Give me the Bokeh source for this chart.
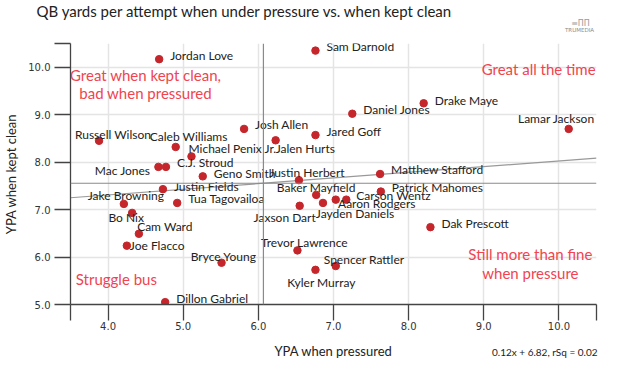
import numpy as np
from bokeh.plotting import figure
from bokeh.models import ColumnDataSource, Label, FixedTicker, Span
from bokeh.core.properties import value
from bokeh.embed import file_html
from bokeh.resources import INLINE

# ---- data ----
players = ["Jordan Love", "Sam Darnold", "Drake Maye", "Daniel Jones", "Lamar Jackson",
           "Jared Goff", "Josh Allen", "Jalen Hurts", "Russell Wilson", "Caleb Williams",
           "Michael Penix Jr.", "Mac Jones", "C.J. Stroud", "Geno Smith", "Justin Herbert",
           "Justin Fields", "Jake Browning", "Tua Tagovailoa", "Bo Nix", "Cam Ward",
           "Joe Flacco", "Bryce Young", "Dillon Gabriel", "Baker Mayfield", "Jaxson Dart",
           "Jayden Daniels", "Aaron Rodgers", "Carson Wentz", "Patrick Mahomes",
           "Matthew Stafford", "Dak Prescott", "Trevor Lawrence", "Spencer Rattler",
           "Kyler Murray"]
ypa_pressured = [4.68, 6.76, 8.20, 7.25, 10.13,
                 6.76, 5.81, 6.23, 3.88, 4.90,
                 5.11, 4.67, 4.77, 5.26, 6.54,
                 4.73, 4.21, 4.92, 4.32, 4.41,
                 4.25, 5.51, 4.76, 6.77, 6.55,
                 6.86, 7.03, 7.17, 7.63,
                 7.62, 8.29, 6.52, 7.03,
                 6.76]
ypa_clean = [10.17, 10.35, 9.24, 9.02, 8.70,
             8.57, 8.70, 8.46, 8.45, 8.32,
             8.12, 7.90, 7.90, 7.70, 7.62,
             7.43, 7.12, 7.14, 6.93, 6.49,
             6.24, 5.88, 5.05, 7.31, 7.08,
             7.14, 7.21, 7.21, 7.38,
             7.75, 6.63, 6.14, 5.81,
             5.73]
x_ticks = [4, 5, 6, 7, 8, 9, 10]
y_ticks = [5, 6, 7, 8, 9, 10]
fit_text = "0.12x + 6.82, rSq = 0.02"
title_text = "QB yards per attempt when under pressure vs. when kept clean"
x_title = "YPA when pressured"
y_title = "YPA when kept clean"
logo_text = "TRUMEDIA"
logo_icon = "≡ΠΠ"

# ---- label placement (style: pixel offsets from each dot, and alignment) ----
lab_style = {
    "Jordan Love": (11, -4, "left"), "Sam Darnold": (11, -4, "left"),
    "Drake Maye": (11, -3, "left"), "Daniel Jones": (11, -4, "left"),
    "Lamar Jackson": (26, -10, "right"), "Jared Goff": (11, -4, "left"),
    "Josh Allen": (11, -4, "left"), "Jalen Hurts": (0, 8, "left"),
    "Russell Wilson": (14, -6, "center"), "Caleb Williams": (13, -10, "center"),
    "Michael Penix Jr.": (-3, -8, "left"), "Mac Jones": (-8, 4, "right"),
    "C.J. Stroud": (11, -4, "left"), "Geno Smith": (11, -3, "left"),
    "Justin Herbert": (8, -8, "center"), "Justin Fields": (11, -3, "left"),
    "Jake Browning": (2, -8, "center"), "Tua Tagovailoa": (11, -4, "left"),
    "Bo Nix": (-6, 5, "center"), "Cam Ward": (26, -7, "center"),
    "Joe Flacco": (3, 0, "left"), "Bryce Young": (2, -6, "center"),
    "Dillon Gabriel": (11, -4, "left"), "Baker Mayfield": (0, -7, "center"),
    "Jaxson Dart": (-15, 12, "center"), "Jayden Daniels": (32, 11, "center"),
    "Aaron Rodgers": (41, 4, "center"), "Carson Wentz": (10, -4, "left"),
    "Patrick Mahomes": (11, -4, "left"), "Matthew Stafford": (11, -5, "left"),
    "Dak Prescott": (11, -4, "left"), "Trevor Lawrence": (7, -8, "center"),
    "Spencer Rattler": (-12, -7, "left"), "Kyler Murray": (6, 13, "center"),
}

FONT = "Lato"
TICKFONT = "DejaVu Sans"
RED = "#c4262b"
NOTE = "#f0444f"
INK = "#222222"

p = figure(width=612, height=362, x_range=(3.5, 10.5), y_range=(5, 10.5),
           output_backend="svg", toolbar_location=None,
           min_border_left=69, min_border_right=16, min_border_top=43, min_border_bottom=58)
p.outline_line_color = None
p.background_fill_color = "white"
p.border_fill_color = "white"

# grids
p.xgrid.ticker = FixedTicker(ticks=x_ticks)
p.ygrid.ticker = FixedTicker(ticks=y_ticks)
for g in (p.xgrid, p.ygrid):
    g.grid_line_color = "#e4e4e4"
    g.grid_line_width = 1.5

# axes
p.xaxis.ticker = FixedTicker(ticks=[3.5] + x_ticks + [10.5])
p.xaxis.major_label_overrides = {3.5: "", 10.5: "", **{t: f"{t:.1f}" for t in x_ticks}}
p.yaxis.ticker = FixedTicker(ticks=y_ticks + [10.5])
p.yaxis.major_label_overrides = {10.5: "", **{t: f"{t:.1f}" for t in y_ticks}}
for ax in (p.xaxis, p.yaxis):
    ax.axis_line_color = "#444444"
    ax.axis_line_width = 1.3
    ax.major_tick_line_color = "#444444"
    ax.major_tick_line_width = 1.3
    ax.major_tick_out = 16
    ax.major_tick_in = 0
    ax.minor_tick_line_color = None
    ax.major_label_text_font = TICKFONT
    ax.major_label_text_font_size = "10px"
    ax.major_label_text_color = "#333333"
    ax.axis_label_text_font = FONT
    ax.axis_label_text_font_size = "13px"
    ax.axis_label_text_font_style = "normal"
    ax.axis_label_text_color = INK
p.xaxis.major_label_standoff = 1
p.yaxis.major_label_standoff = 4
p.yaxis.axis_label = y_title
p.yaxis.axis_label_standoff = 6

# texts outside the frame, in the side panels (offsets relative to frame left / panel bottom)
def side_label(loc, x, y, t, font, size, color, align="left"):
    p.add_layout(Label(x=x, y=y, x_units="screen", y_units="screen", text=t,
                       text_font=font, text_font_size=size, text_color=color,
                       text_align=align, text_baseline="middle"), loc)

side_label("below", 263, -2, x_title, FONT, "13px", INK, "center")
side_label("below", 527, 9, fit_text, FONT, "10px", INK, "right")
side_label("above", 509, 14, logo_text, TICKFONT, "5.5px", "#8c8c8c", "center")
side_label("above", 510, 14, logo_icon, TICKFONT, "8px", "#9a9a9a", "center")
side_label("above", -34, 18, title_text, FONT, "15px", INK, "left")

xs = np.array(ypa_pressured)
ys = np.array(ypa_clean)

# mean lines
p.add_layout(Span(location=float(xs.mean()), dimension="height", line_color="#8a8a8a", line_width=1.2))
p.add_layout(Span(location=float(ys.mean()), dimension="width", line_color="#8a8a8a", line_width=1.2))

# regression line
slope, intercept = np.polyfit(xs, ys, 1)
fx = np.array([3.5, 10.5])
p.line(fx, slope * fx + intercept, line_color="#999999", line_width=1.2)

# points
src = ColumnDataSource(dict(
    x=xs, y=ys, name=players,
    dx=[lab_style[n][0] for n in players],
    dy=[lab_style[n][1] for n in players],
    align=[lab_style[n][2] for n in players],
))
p.scatter("x", "y", source=src, size=7.5, fill_color=RED, line_color=RED)
p.text("x", "y", text="name", source=src, x_offset="dx", y_offset="dy",
       text_align="align", text_baseline="middle",
       text_font=value(FONT), text_font_size="12px", text_color=INK)

# quadrant notes
def note(x, y, t):
    p.add_layout(Label(x=x, y=y, text=t, text_font=FONT, text_font_size="15px",
                       text_color=NOTE, text_align="center", text_baseline="middle"))

note(4.50, 9.84, "Great when kept clean,")
note(4.50, 9.45, "bad when pressured")
note(9.73, 9.96, "Great all the time")
note(4.11, 5.54, "Struggle bus")
note(9.62, 6.07, "Still more than fine")
note(9.62, 5.66, "when pressure")

open("out.html", "w").write(file_html(p, INLINE))
